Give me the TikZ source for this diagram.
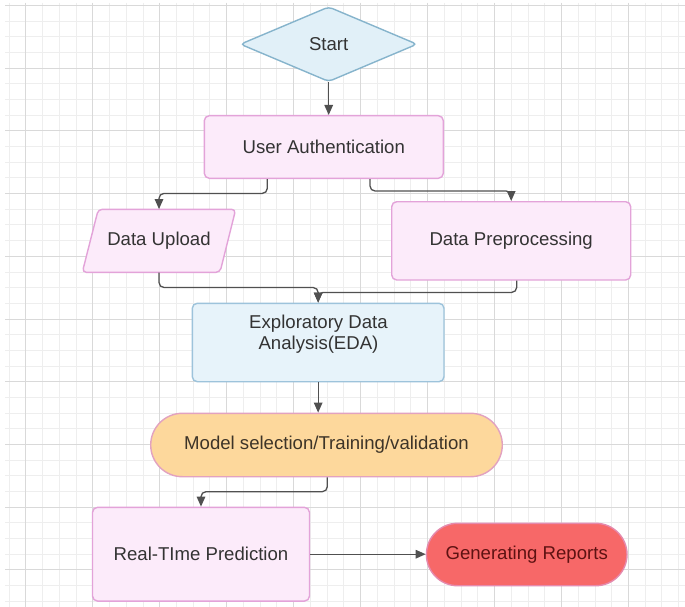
\documentclass[tikz,border=0pt]{standalone}
\usepackage{fontspec}
\setmainfont{Liberation Sans}
\usetikzlibrary{shapes.geometric,arrows.meta}
\definecolor{gridminor}{HTML}{EEEEEE}
\definecolor{gridmajor}{HTML}{D9D9D9}
\definecolor{pinkfill}{HTML}{FCEBFA}
\definecolor{pinkline}{HTML}{E3A3D9}
\definecolor{bluefill}{HTML}{E7F3FA}
\definecolor{blueline}{HTML}{9DC3DB}
\definecolor{diafill}{HTML}{E1F0F8}
\definecolor{dialine}{HTML}{86B4CC}
\definecolor{orangefill}{HTML}{FDD89C}
\definecolor{orangeline}{HTML}{E2A2C0}
\definecolor{redfill}{HTML}{F76868}
\definecolor{redline}{HTML}{E58AAE}
\definecolor{txt}{HTML}{333333}
\definecolor{browntxt}{HTML}{3D3428}
\definecolor{redtxt}{HTML}{5E1212}
\definecolor{arrowc}{HTML}{505050}
\begin{document}
\begin{tikzpicture}[x=1pt,y=-1pt,
  lbl/.style={font=\fontsize{18.6}{20.5}\selectfont, text=txt, align=center, inner sep=0pt},
  pinkbox/.style={lbl, rectangle, draw=pinkline, fill=pinkfill, line width=1.4pt, rounded corners=5pt},
  bluebox/.style={lbl, rectangle, draw=blueline, fill=bluefill, line width=1.4pt, rounded corners=5pt},
  orangepill/.style={lbl, rectangle, draw=orangeline, fill=orangefill, line width=1.4pt, text=browntxt},
  redpill/.style={lbl, rectangle, draw=redline, fill=redfill, line width=1.4pt, text=redtxt},
  startdia/.style={lbl, diamond, draw=dialine, fill=diafill, line width=1.4pt, rounded corners=4pt},
  conn/.style={draw=arrowc, line width=1.3pt, rounded corners=5pt, -{Triangle[length=10pt,width=8.5pt]}},
  minorline/.style={draw=gridminor, line width=0.7pt},
  majorline/.style={draw=gridmajor, line width=0.9pt}
]
\useasboundingbox (0,0) rectangle (685,607);
\fill[white] (0,0) rectangle (685,607);
% grid
\foreach \i in {0,...,40} \draw[minorline] ({8.96+16.74*\i},3) -- ({8.96+16.74*\i},607);
\foreach \j in {0,...,38} \draw[minorline] (5,{5.3+15.68*\j}) -- (685,{5.3+15.68*\j});
\foreach \k in {0,...,9} \draw[majorline] ({25.7+66.96*\k},3) -- ({25.7+66.96*\k},607);
\foreach \k in {0,...,9} \draw[majorline] (5,{5.3+62.73*\k}) -- (685,{5.3+62.73*\k});

% nodes
\node[startdia, minimum width=177pt, minimum height=75pt] (start) at (328.7,44.2) {Start};
\node[pinkbox, minimum width=239pt, minimum height=62.6pt] (ua) at (323.8,147) {User Authentication};
\draw[draw=pinkline, fill=pinkfill, line width=1.4pt, rounded corners=4pt]
  (82.3,272.3) -- (98.3,209.3) -- (235.7,209.3) -- (220,272.3) -- cycle;
\node[lbl, minimum width=138pt, minimum height=63pt] (du) at (159,240.8) {Data Upload};
\node[pinkbox, minimum width=239pt, minimum height=78.3pt] (dp) at (511.2,240.85) {Data Preprocessing};
\node[bluebox, minimum width=251.7pt, minimum height=78.4pt] (eda) at (318.15,342.5) {};
\node[lbl] (edatext) at (318.5,334) {Exploratory Data\\Analysis(EDA)};
\node[orangepill, minimum width=351.6pt, minimum height=63.4pt, rounded corners=31.7pt] (model) at (326.5,445) {Model selection/Training/validation};
\node[pinkbox, minimum width=217pt, minimum height=93.7pt] (rt) at (201,554.2) {Real-TIme Prediction};
\node[redpill, minimum width=200.6pt, minimum height=62.4pt, rounded corners=31.2pt] (gr) at (526.7,554.5) {Generating Reports};

% connectors
\draw[conn] (start.south) -- (start.south |- ua.north);
\draw[conn] ([xshift=-56.5pt]ua.south) -- ++(0,14.4) -| (du.north);
\draw[conn] ([xshift=46.2pt]ua.south) -- ++(0,12) -| (dp.north);
\draw[conn] (du.south) -- ++(0,15) -| (eda.north);
\draw[conn] ([xshift=5.5pt]dp.south) -- ++(0,11.7) -| (eda.north);
\draw[conn] (eda.south) -- (eda.south |- model.north);
\draw[conn] ([xshift=0.8pt]model.south) -- ++(0,14.3) -| (rt.north);
\draw[conn] (rt.east) -- (rt.east -| gr.west);
\end{tikzpicture}
\end{document}
